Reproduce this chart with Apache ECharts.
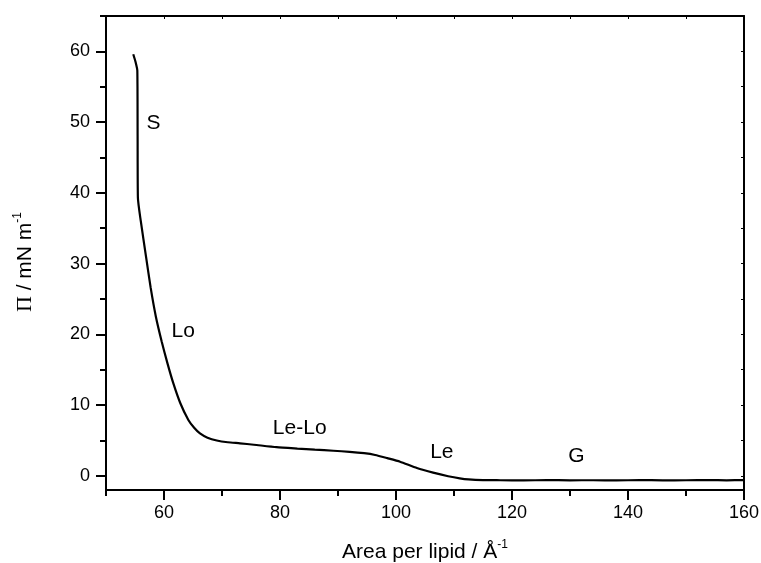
<!DOCTYPE html>
<html>
<head>
<meta charset="utf-8">
<script src="https://cdn.jsdelivr.net/npm/echarts@6/dist/echarts.min.js"></script>
<style>html,body{margin:0;padding:0;background:#fff}#c{width:761px;height:563px}</style>
</head>
<body>
<div id="c"></div>
<script>
// Isotherm data: area per lipid (Å^-1) vs surface pressure (mN/m)
const areaValues = [54.7, 55.1, 55.4, 55.45, 55.5, 56.0, 56.9, 57.7, 58.6, 59.6, 60.6, 61.6, 62.8, 64.2, 65.2, 66.2, 67.5, 69.1, 71.0, 73.1, 75.5, 79.4, 83.0, 86.0, 89.2, 92.0, 94.5, 96.4, 98.5, 100.7, 103.6, 106.4, 109.0, 111.0, 112.5, 115.0, 118.0, 122.0, 126.0, 130.0, 134.0, 138.0, 142.0, 146.0, 150.0, 154.0, 157.0, 160.0];
const pressureValues = [59.6, 58.5, 57.3, 48.0, 39.3, 36.0, 31.0, 26.6, 22.5, 19.0, 15.9, 13.1, 10.3, 7.9, 6.8, 6.0, 5.4, 5.0, 4.75, 4.6, 4.4, 4.05, 3.85, 3.7, 3.55, 3.4, 3.2, 2.95, 2.5, 2.0, 1.1, 0.45, -0.05, -0.35, -0.5, -0.6, -0.62, -0.64, -0.6, -0.63, -0.62, -0.65, -0.6, -0.63, -0.62, -0.6, -0.63, -0.6];

// Phase annotations
const phaseLabels = ['S', 'Lo', 'Le-Lo', 'Le', 'G'];
const phaseX = [58.2, 63.3, 83.4, 107.9, 131.1];
const phaseY = [49.8, 20.5, 6.7, 3.3, 2.8];

// Axis ticks
const xMajorTicks = [60, 80, 100, 120, 140, 160];
const xMinorTicks = [50, 70, 90, 110, 130, 150];
const xTopTicks = [50, 60, 70, 80, 90, 100, 110, 120, 130, 140, 150, 160];
const yMajorTicks = [0, 10, 20, 30, 40, 50, 60];
const yMinorTicks = [5, 15, 25, 35, 45, 55, 65];
const yRightTicks = [0, 5, 10, 15, 20, 25, 30, 35, 40, 45, 50, 55, 60, 65];

const FONT = "'Liberation Sans', Arial, Helvetica, sans-serif";
const X_MIN = 50, X_MAX = 160, Y_MIN = -2, Y_MAX = 65;

const lineData = areaValues.map((x, i) => [x, pressureValues[i]]);
const labelData = phaseLabels.map((t, i) => ({ value: [phaseX[i], phaseY[i]], name: t }));

const axisLineStyle = { show: true, onZero: false, lineStyle: { color: '#000', width: 2 } };
function xAx(extra) {
  return Object.assign({
    type: 'value', min: X_MIN, max: X_MAX, splitLine: { show: false },
    axisLine: { show: false, onZero: false }, axisLabel: { show: false }, axisTick: { show: false }
  }, extra);
}
function yAx(extra) {
  return Object.assign({
    type: 'value', min: Y_MIN, max: Y_MAX, splitLine: { show: false },
    axisLine: { show: false, onZero: false }, axisLabel: { show: false }, axisTick: { show: false }
  }, extra);
}

const chart = echarts.init(document.getElementById('c'), null, { renderer: 'canvas' });
chart.setOption({
  animation: false,
  backgroundColor: '#fff',
  grid: { left: 106, right: 17, top: 16, bottom: 73, containLabel: false, outerBoundsMode: 'none' },
  xAxis: [
    xAx({
      position: 'bottom',
      axisLine: axisLineStyle,
      axisTick: { show: true, customValues: xMajorTicks, length: 10, lineStyle: { color: '#000', width: 2 } },
      axisLabel: { show: true, customValues: xMajorTicks, fontSize: 18, fontFamily: FONT, color: '#000', margin: 14 },
      name: '{a|Area per lipid / Å}{s|-1}',
      nameLocation: 'middle',
      nameGap: 49,
      nameTextStyle: {
        rich: {
          a: { fontSize: 21, fontFamily: FONT, color: '#000', lineHeight: 26 },
          s: { fontSize: 12, fontFamily: FONT, color: '#000', lineHeight: 12, verticalAlign: 'top' }
        }
      }
    }),
    xAx({
      position: 'bottom',
      axisTick: { show: true, customValues: xMinorTicks, length: 6, lineStyle: { color: '#000', width: 2 } }
    }),
    xAx({
      position: 'top',
      axisLine: axisLineStyle,
      axisTick: { show: true, inside: true, customValues: xTopTicks, length: 3, lineStyle: { color: '#000', width: 1 } }
    })
  ],
  yAxis: [
    yAx({
      position: 'left',
      axisLine: axisLineStyle,
      axisTick: { show: true, customValues: yMajorTicks, length: 10, lineStyle: { color: '#000', width: 2 } },
      axisLabel: { show: true, customValues: yMajorTicks, fontSize: 18, fontFamily: FONT, color: '#000', margin: 16 },
      name: '{p|Π}{a| / mN m}{s|-1}',
      nameLocation: 'middle',
      nameGap: 68,
      nameTextStyle: {
        padding: [0, 18, 0, 0],
        rich: {
          p: { fontSize: 22, fontFamily: "'Liberation Serif', 'Times New Roman', serif", color: '#000', lineHeight: 26 },
          a: { fontSize: 21, fontFamily: FONT, color: '#000', lineHeight: 26 },
          s: { fontSize: 12, fontFamily: FONT, color: '#000', lineHeight: 12, verticalAlign: 'top' }
        }
      }
    }),
    yAx({
      position: 'left',
      axisTick: { show: true, customValues: yMinorTicks, length: 6, lineStyle: { color: '#000', width: 2 } }
    }),
    yAx({
      position: 'right',
      axisLine: axisLineStyle,
      axisTick: { show: true, inside: true, customValues: yRightTicks, length: 3, lineStyle: { color: '#000', width: 1 } }
    })
  ],
  series: [
    {
      type: 'line',
      xAxisIndex: 0, yAxisIndex: 0,
      data: lineData,
      smooth: 0.2,
      showSymbol: false,
      symbol: 'none',
      lineStyle: { color: '#000', width: 2.2 },
      clip: true
    },
    {
      type: 'scatter',
      xAxisIndex: 0, yAxisIndex: 0,
      data: labelData,
      symbolSize: 0,
      itemStyle: { opacity: 1, color: '#000' },
      label: {
        show: true,
        position: 'inside',
        formatter: p => p.name,
        fontSize: 21,
        fontFamily: FONT,
        color: '#000',
        opacity: 1,
        textBorderWidth: 0
      }
    }
  ]
});
</script>
</body>
</html>
